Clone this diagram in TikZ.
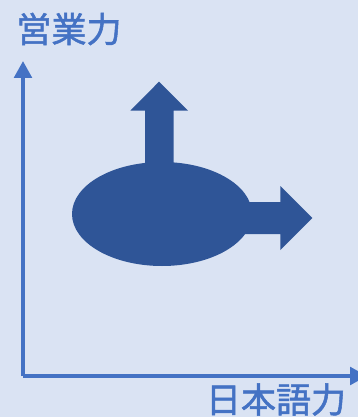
\documentclass[tikz,border=0pt]{standalone}
\usepackage{fontspec}
\newfontfamily\cjkfont[FakeBold=1.5]{Noto Sans CJK JP}
\usetikzlibrary{arrows.meta,shapes.geometric}
\definecolor{bgc}{HTML}{DAE3F3}
\definecolor{axisc}{HTML}{4472C4}
\definecolor{bodyc}{HTML}{2F5597}
\tikzset{
  axisline/.style={draw=axisc,line width=4pt,-{Triangle[length=17pt,width=17.5pt]}},
  axislabel/.style={text=axisc,inner sep=0pt,font=\cjkfont\fontsize{35pt}{35pt}\selectfont},
  blob/.style={ellipse,fill=bodyc,inner sep=0pt,minimum width=180pt,minimum height=104pt},
  bodyshape/.style={fill=bodyc,draw=none}
}
\begin{document}
\begin{tikzpicture}[x=1pt,y=-1pt]
\useasboundingbox (0,0) rectangle (358,417);
\clip (0,0) rectangle (358,417);
\fill[bgc] (0,0) rectangle (358,417);
\coordinate (origin) at (23,376);
\coordinate (ytip) at (23,61);
\coordinate (xtip) at (367,376);
\draw[axisline] (origin) -- (ytip);
\draw[axisline] (origin) -- (xtip);
\fill[bodyshape] (145,170) -- (145,110.7) -- (130.3,110.7) -- (159,81.7) -- (188,110.7) -- (173.7,110.7) -- (173.7,170) -- cycle;
\fill[bodyshape] (240,202) -- (280.3,202) -- (280.3,186) -- (312.3,218) -- (280.3,250) -- (280.3,234) -- (240,234) -- cycle;
\node[blob] (body) at (162,214) {};
\node[axislabel] (ylab) at (69,29) {営業力};
\node[axislabel] (xlab) at (276,399.5) {日本語力};
\end{tikzpicture}
\end{document}
